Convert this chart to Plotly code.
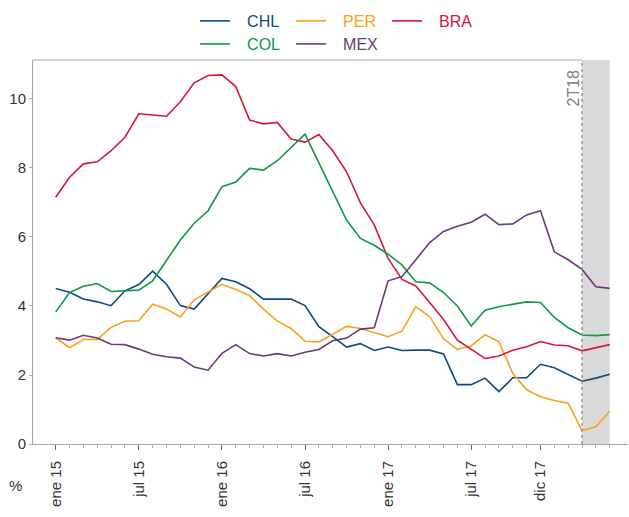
import plotly.graph_objects as go

# Monthly periods: ene 2015 .. may 2018 (index 0..40)
periods = list(range(41))
tick_positions = [0, 6, 12, 18, 24, 30, 35]
tick_labels = ["ene 15", "jul 15", "ene 16", "jul 16", "ene 17", "jul 17", "dic 17"]

chl = [4.51, 4.40, 4.20, 4.12, 4.01, 4.44, 4.62, 5.01, 4.63, 4.01, 3.91, 4.37, 4.80, 4.70, 4.50,
       4.20, 4.20, 4.20, 4.01, 3.40, 3.11, 2.81, 2.91, 2.71, 2.81, 2.71, 2.72, 2.72, 2.61, 1.72,
       1.72, 1.91, 1.52, 1.92, 1.92, 2.31, 2.21, 2.02, 1.82, 1.91, 2.02]
per = [3.08, 2.79, 3.03, 3.03, 3.38, 3.56, 3.57, 4.05, 3.91, 3.68, 4.18, 4.40, 4.63, 4.48, 4.30,
       3.91, 3.56, 3.35, 2.98, 2.96, 3.18, 3.41, 3.35, 3.24, 3.11, 3.27, 3.98, 3.69, 3.05, 2.74,
       2.85, 3.17, 2.96, 2.05, 1.57, 1.37, 1.26, 1.18, 0.39, 0.50, 0.95]
bra = [7.15, 7.73, 8.12, 8.18, 8.50, 8.89, 9.57, 9.54, 9.50, 9.92, 10.47, 10.68, 10.70, 10.36, 9.39,
       9.28, 9.32, 8.84, 8.75, 8.97, 8.50, 7.89, 6.99, 6.35, 5.38, 4.77, 4.58, 4.10, 3.61, 3.01,
       2.74, 2.48, 2.55, 2.72, 2.82, 2.97, 2.87, 2.85, 2.70, 2.78, 2.88]
col = [3.83, 4.39, 4.57, 4.65, 4.42, 4.43, 4.46, 4.73, 5.31, 5.91, 6.40, 6.76, 7.46, 7.59, 7.99,
       7.94, 8.21, 8.60, 8.98, 8.15, 7.32, 6.49, 5.96, 5.76, 5.50, 5.19, 4.70, 4.67, 4.39, 4.00,
       3.42, 3.88, 3.98, 4.06, 4.12, 4.10, 3.67, 3.37, 3.16, 3.14, 3.17]
mex = [3.08, 3.01, 3.15, 3.07, 2.89, 2.88, 2.75, 2.60, 2.53, 2.49, 2.23, 2.14, 2.63, 2.88, 2.62,
       2.55, 2.62, 2.55, 2.66, 2.74, 2.99, 3.07, 3.33, 3.37, 4.73, 4.85, 5.34, 5.84, 6.16, 6.31,
       6.43, 6.66, 6.36, 6.38, 6.64, 6.76, 5.57, 5.34, 5.06, 4.56, 4.51]

forecast_start = 38
forecast_end = 40
forecast_label = "2T18"

series = [
    ("CHL", chl, "#0d4a80", "legend"),
    ("PER", per, "#f9a11b", "legend"),
    ("BRA", bra, "#d7163f", "legend"),
    ("COL", col, "#0a9a48", "legend2"),
    ("MEX", mex, "#6a3b78", "legend2"),
]

FONT = "Liberation Sans, Arial, sans-serif"
AXIS = "#a6a6a6"
XMIN, XMAX = -1.64, 41.32
YMAX = 11.13
W, H = 629, 517

fig = go.Figure()
for name, vals, color, leg in series:
    fig.add_trace(go.Scatter(
        x=periods, y=vals, mode="lines", legend=leg,
        name="\u00a0\u00a0\u2009<span style='color:%s'>%s</span>" % (color, name),
        line=dict(color=color, width=1.6),
    ))

fig.add_shape(type="rect", xref="x", yref="paper", x0=forecast_start, x1=forecast_end,
              y0=0, y1=1, fillcolor="#d9d9d9", line=dict(width=0), layer="below")
fig.add_shape(type="line", xref="x", yref="paper", x0=XMIN, x1=forecast_start, y0=1, y1=1,
              line=dict(color=AXIS, width=1), layer="below")
fig.add_shape(type="line", xref="x", yref="paper", x0=forecast_start, x1=forecast_start,
              y0=0, y1=1, line=dict(color="#9a9a9a", width=1.5, dash="dot"))

fig.add_annotation(x=forecast_start, y=(444 - 92.5) / 384, xref="x", yref="paper",
                   text=forecast_label, textangle=-90, showarrow=False,
                   xanchor="center", yanchor="middle", xshift=-9, yshift=4,
                   font=dict(family=FONT, size=16, color="#808080"))
fig.add_annotation(x=(15 - 33) / 595, y=(444 - 485) / 384, xref="x domain", yref="y domain",
                   xanchor="center", yanchor="middle",
                   text="%", showarrow=False,
                   font=dict(family=FONT, size=15, color="#333333"))

legend_x = (195 - 33) / 595
fig.update_layout(
    width=W, height=H,
    margin=dict(l=33, r=1, t=60, b=73, autoexpand=False),
    plot_bgcolor="white", paper_bgcolor="white",
    font=dict(family=FONT, size=15, color="#333333"),
    showlegend=True,
    legend=dict(orientation="h", x=legend_x, xanchor="left", y=1 - 4 / H, yref="container",
                yanchor="top", entrywidth=51, entrywidthmode="pixels",
                font=dict(family=FONT, size=16), bgcolor="rgba(0,0,0,0)", tracegroupgap=0),
    legend2=dict(orientation="h", x=legend_x, xanchor="left", y=1 - 27 / H, yref="container",
                 yanchor="top", entrywidth=51, entrywidthmode="pixels",
                 font=dict(family=FONT, size=16), bgcolor="rgba(0,0,0,0)", tracegroupgap=0),
    xaxis=dict(range=[XMIN, XMAX], showgrid=False, zeroline=False, showline=True,
               automargin=False,
               linecolor=AXIS, linewidth=1, tickvals=tick_positions, ticktext=tick_labels,
               ticks="outside", ticklen=5, tickcolor="#666666", tickangle=-90,
               ticklabelstandoff=5,
               tickfont=dict(family=FONT, size=15, color="#333333"),
               minor=dict(tickvals=periods, ticks="outside", ticklen=3, tickcolor="#b0b0b0")),
    yaxis=dict(range=[0, YMAX], showgrid=False, zeroline=False, showline=True,
               automargin=False,
               linecolor=AXIS, linewidth=1, tickvals=[0, 2, 4, 6, 8, 10],
               ticks="outside", ticklen=3, tickcolor="#b0b0b0",
               tickfont=dict(family=FONT, size=15, color="#333333")),
)

fig.write_html("out.html", config={"displayModeBar": False},
               post_script="document.body.style.margin='0';")
